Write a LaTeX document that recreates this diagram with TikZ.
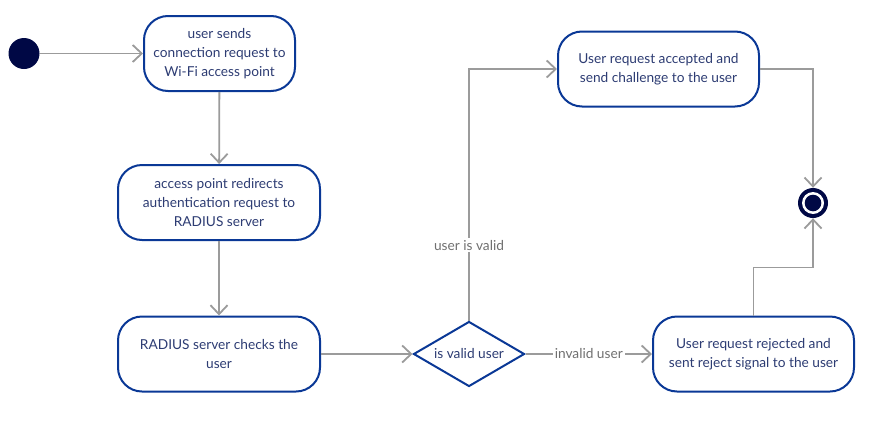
\documentclass[tikz,border=0pt]{standalone}
\usepackage{fontspec}
\setmainfont{Lato}
\usepackage{xcolor}
\usepackage{tikz}
\usetikzlibrary{arrows.meta,shapes.geometric}

\definecolor{boxblue}{HTML}{0A3896}
\definecolor{txtblue}{HTML}{2D3C73}
\definecolor{flowgray}{HTML}{9B9B9B}
\definecolor{lblgray}{HTML}{707070}
\definecolor{nodedark}{HTML}{000845}

\tikzset{
  activity/.style={draw=boxblue, line width=2pt, rounded corners=24pt, fill=white,
    text=txtblue, align=center, inner sep=0pt, minimum height=75pt,
    font=\fontsize{13.7}{19}\selectfont},
  decision/.style={diamond, draw=boxblue, line width=2pt, fill=white, text=txtblue,
    inner sep=0pt, shape aspect=1.7, minimum width=111pt, minimum height=65pt,
    font=\fontsize{13.7}{19}\selectfont},
  flow/.style={draw=flowgray, line width=1.8pt, -{Straight Barb[length=9pt,width=17pt]}},
  lbl/.style={fill=white, text=lblgray, inner sep=2pt, font=\fontsize{13.7}{15}\selectfont}
}

\begin{document}
\begin{tikzpicture}[x=1pt, y=-1pt]
\useasboundingbox (0,0) rectangle (877,434);

% Start
\node[circle, fill=nodedark, minimum size=31pt, inner sep=0pt] (start) at (24,53.5) {};

% Left column
\node[activity, minimum width=151pt] (send) at (219.5,53.5)
  {user sends\\connection request to\\Wi-Fi access point};
\node[activity, minimum width=202pt] (redirect) at (219,202.5)
  {access point redirects\\authentication request to\\RADIUS server};
\node[activity, minimum width=202pt] (check) at (219,354)
  {RADIUS server checks the\\user};

% Decision
\node[decision] (valid) at (469,354) {is valid user};

% Right side
\node[activity, minimum width=201pt] (accept) at (658.5,69)
  {User request accepted and\\send challenge to the user};
\node[activity, minimum width=201pt] (reject) at (753.5,354)
  {User request rejected and\\sent reject signal to the user};

% End
\node[circle, fill=nodedark, minimum size=30pt, inner sep=0pt] (done) at (813,203) {};
\fill[white] (done) circle (11pt);
\fill[nodedark] (done) circle (8.3pt);

% Flows
\draw[flow] (start) -- (send);
\draw[flow] (send) -- (redirect);
\draw[flow] (redirect) -- (check);
\draw[flow] (check) -- (valid);
\draw[flow] (valid) -- node[lbl] {invalid user} (reject);
\draw[flow] (valid.north) |- node[lbl, pos=0.15] {user is valid} (accept.west);
\draw[flow] (accept.east) -| (done.north);
\draw[flow] (reject.north) -- ++(0,-48) -| (done.south);

\end{tikzpicture}
\end{document}
